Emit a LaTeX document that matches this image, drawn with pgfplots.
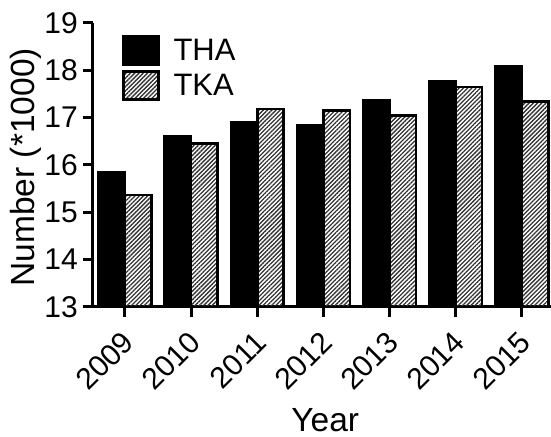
\documentclass[border=0pt]{standalone}
\usepackage{fontspec}
\setmainfont{Liberation Sans}
\usepackage{pgfplots}
\pgfplotsset{compat=1.18}
\usetikzlibrary{patterns.meta}

\begin{document}
\begin{tikzpicture}
\begin{axis}[
  scale only axis, width=458pt, height=284pt,
  ybar=0pt, bar width=0.4,
  xmin=-0.483, xmax=6.44, ymin=13, ymax=19,
  xtick={0,1,2,3,4,5,6},
  xticklabels={2009,2010,2011,2012,2013,2014,2015},
  ytick={13,14,15,16,17,18,19},
  axis x line*=bottom, axis y line*=left,
  axis line style={line width=3pt, black},
  major tick style={line width=3pt, black},
  major tick length=10pt, tick align=outside,
  /pgf/number format/assume math mode=true,
  ticklabel style={font=\fontsize{30}{32}\selectfont},
  yticklabel style={inner sep=2pt, xshift=-3pt},
  xticklabel style={xshift=-4pt, yshift=-3pt, rotate=45, anchor=north east, inner sep=1pt},
  xticklabel shift=8pt,
  xlabel={Year}, ylabel={Number (*1000)},
  label style={font=\fontsize{33.5}{36}\selectfont},
  xlabel style={at={(axis description cs:0.507,-0.440)}, anchor=base, inner sep=0pt},
  ylabel style={at={(axis description cs:-0.146,0.492)}, anchor=center},
  legend style={at={(0.063,0.958)}, anchor=north west, draw=none, fill=none,
    font=\fontsize{31}{33}\selectfont, inner sep=0pt, row sep=4.5pt,
    nodes={inner sep=2pt},
    /tikz/every odd column/.append style={column sep=12pt}},
  legend image code/.code={\draw[#1] (0pt,-14pt) rectangle (35pt,14pt);},
  legend cell align=left,
]
\addplot[fill=black, draw=black, line width=2.5pt]
  coordinates {(0,15.85) (1,16.60) (2,16.91) (3,16.85) (4,17.37) (5,17.76) (6,18.08)};
\addlegendentry{THA}
\addplot[draw=black, line width=2.5pt,
  pattern={Lines[angle=45,distance=3pt,line width=1.3pt]}, pattern color=black!80]
  coordinates {(0,15.37) (1,16.45) (2,17.18) (3,17.15) (4,17.05) (5,17.65) (6,17.34)};
\addlegendentry{TKA}
\end{axis}
\pgfresetboundingbox
\path ([shift={(-93pt,-130pt)}]current axis.south west) rectangle ([shift={(0pt,23pt)}]current axis.north east);
\end{tikzpicture}
\end{document}
